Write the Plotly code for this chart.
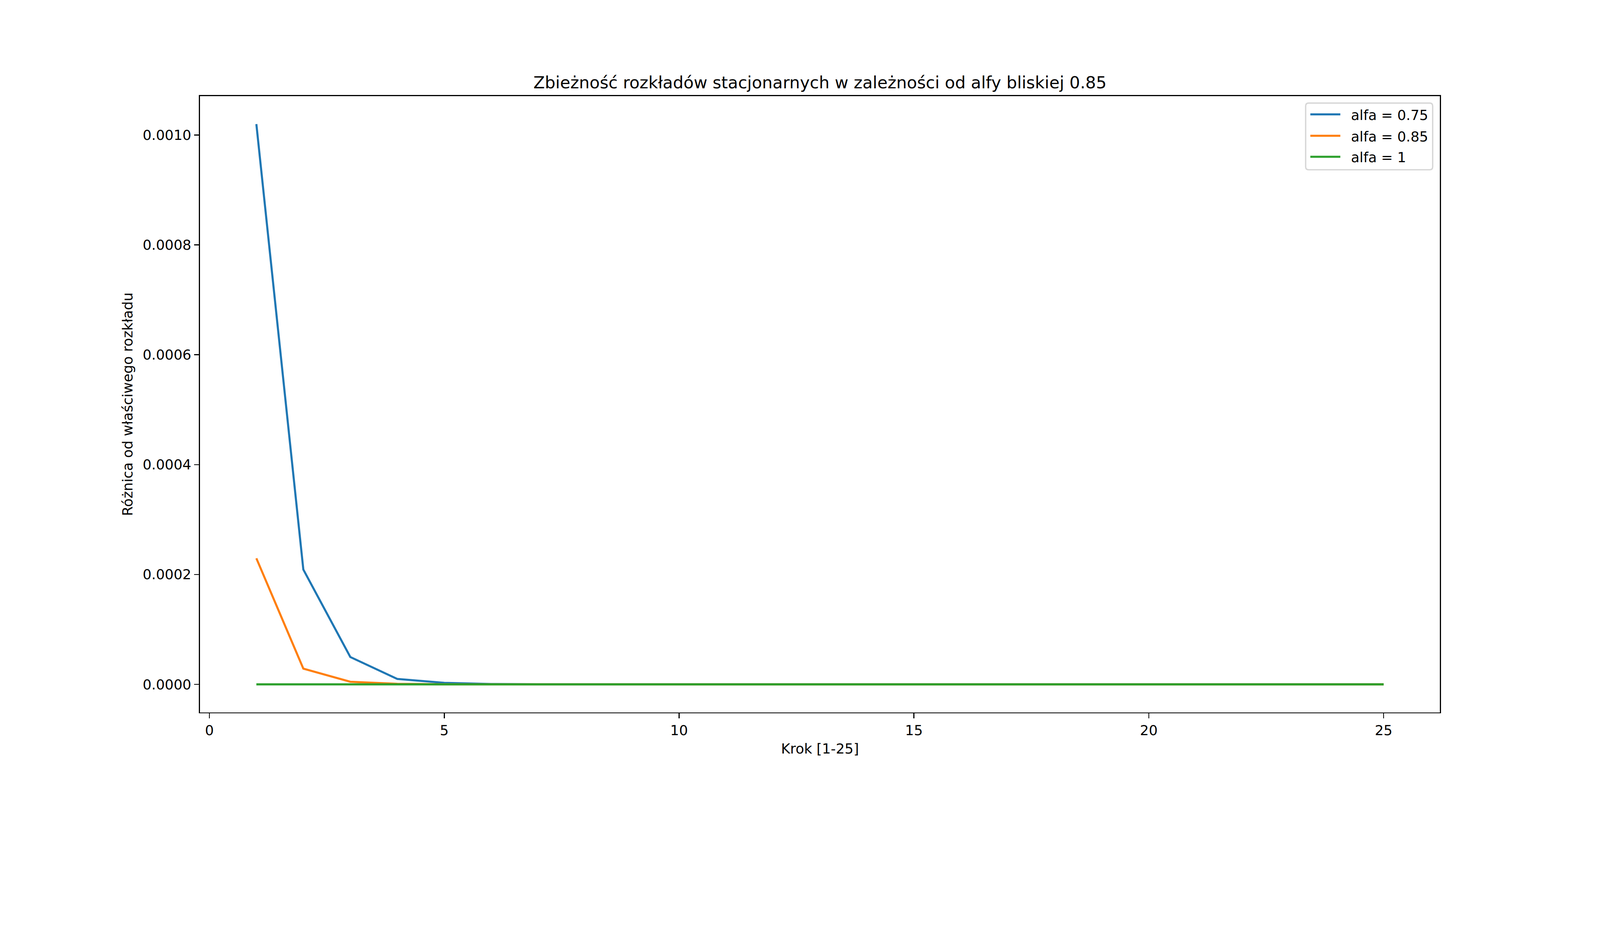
import plotly.graph_objects as go

steps = list(range(1, 26))
alfa_075 = [0.00102, 0.000209, 0.0000498, 0.0000099, 0.0000028, 0.0000007, 0.0000002] + [0.0] * 18
alfa_085 = [0.0002295, 0.0000286, 0.0000048, 0.0000009, 0.0000002] + [0.0] * 20
alfa_1 = [0.0] * 25
labels = ["alfa = 0.75", "alfa = 0.85", "alfa = 1"]
colors = ["#1f77b4", "#ff7f0e", "#2ca02c"]
title = "Zbieżność rozkładów stacjonarnych w zależności od alfy bliskiej 0.85"
xlabel = "Krok [1-25]"
ylabel = "Różnica od właściwego rozkładu"
xticks = [0, 5, 10, 15, 20, 25]
yticks = [0.0, 0.0002, 0.0004, 0.0006, 0.0008, 0.0010]

FONT = "DejaVu Sans"
FS = 41.7
W, H = 4800, 2400
ML, MR, MT, MB = 600, 480, 288, 264
PW, PH = W - ML - MR, H - MT - MB


def px_x(px):
    return (px - ML) / PW


def px_y(py):
    return (H - MB - py) / PH


fig = go.Figure()
for ys, lab, col in zip([alfa_075, alfa_085, alfa_1], labels, colors):
    fig.add_trace(go.Scatter(x=steps, y=ys, mode="lines", name=lab, showlegend=False,
                             line=dict(color=col, width=6.25)))

axis_common = dict(showline=True, mirror=True, linecolor="black", linewidth=3.3,
                   ticks="outside", ticklen=14.6, tickwidth=3.3, tickcolor="black",
                   showgrid=False, zeroline=False,
                   tickfont=dict(family=FONT, size=FS, color="black"))

# legend drawn as a matplotlib-style framed box (decoration, not data)
lx0, lx1, ly0, ly1, r = 3917, 4298, 309, 509, 9
frame_path = (
    f"M {px_x(lx0 + r)},{px_y(ly0)} L {px_x(lx1 - r)},{px_y(ly0)} "
    f"Q {px_x(lx1)},{px_y(ly0)} {px_x(lx1)},{px_y(ly0 + r)} "
    f"L {px_x(lx1)},{px_y(ly1 - r)} Q {px_x(lx1)},{px_y(ly1)} {px_x(lx1 - r)},{px_y(ly1)} "
    f"L {px_x(lx0 + r)},{px_y(ly1)} Q {px_x(lx0)},{px_y(ly1)} {px_x(lx0)},{px_y(ly1 - r)} "
    f"L {px_x(lx0)},{px_y(ly0 + r)} Q {px_x(lx0)},{px_y(ly0)} {px_x(lx0 + r)},{px_y(ly0)} Z"
)
shapes = [dict(type="path", xref="paper", yref="paper", path=frame_path,
               fillcolor="rgba(255,255,255,0.8)",
               line=dict(color="rgba(204,204,204,0.8)", width=4))]
annotations = []
row_y = [343, 407, 470]
for lab, col, ry in zip(labels, colors, row_y):
    shapes.append(dict(type="line", xref="paper", yref="paper",
                       x0=px_x(3931), x1=px_x(4021), y0=px_y(ry), y1=px_y(ry),
                       line=dict(color=col, width=6.25)))
    annotations.append(dict(text=lab, xref="paper", yref="paper", x=px_x(4051), y=px_y(ry + 2),
                            xanchor="left", yanchor="middle", showarrow=False,
                            font=dict(family=FONT, size=FS, color="black")))

annotations.append(dict(text=title, xref="paper", yref="paper", x=0.5, y=1,
                        xanchor="center", yanchor="bottom", yshift=9, showarrow=False,
                        font=dict(family=FONT, size=50, color="black")))

fig.update_layout(
    width=W, height=H,
    margin=dict(l=ML, r=MR, t=MT, b=MB, pad=0),
    paper_bgcolor="white", plot_bgcolor="white",
    font=dict(family=FONT, size=FS, color="black"),
    showlegend=False,
    xaxis=dict(range=[-0.2, 26.2], tickvals=xticks,
               title=dict(text=xlabel, font=dict(family=FONT, size=FS), standoff=18),
               **axis_common),
    yaxis=dict(range=[-0.000051, 0.001071], tickvals=yticks, tickformat=".4f",
               title=dict(text=ylabel, font=dict(family=FONT, size=FS), standoff=18),
               **axis_common),
    shapes=shapes,
    annotations=annotations,
)

post = """
(function(){
  var gd = document.getElementById('{plot_id}');
  document.documentElement.style.margin = '0';
  document.documentElement.style.overflow = 'hidden';
  document.body.style.margin = '0';
  document.body.style.overflow = 'hidden';
  var s = Math.min(window.innerWidth / %d, window.innerHeight / %d);
  if (!isFinite(s) || s <= 0) { s = 1; }
  gd.style.transformOrigin = '0 0';
  gd.style.transform = 'scale(' + s + ')';
  var p = gd.parentElement;
  p.style.width = (%d * s) + 'px';
  p.style.height = (%d * s) + 'px';
  p.style.overflow = 'hidden';
})();
""" % (W, H, W, H)

fig.write_html("out.html", post_script=post, config={"displayModeBar": False})
